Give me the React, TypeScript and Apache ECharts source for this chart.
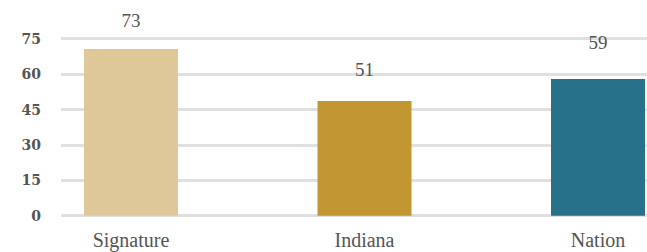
import React, { useEffect, useRef } from "react";
import * as echarts from "echarts";

const categories = ["Signature", "Indiana", "Nation"];
const barValues = [70.6, 48.6, 57.9];
const labelValues = [73, 51, 59];
const yTicks = { min: 0, max: 75, interval: 15 };
const barColors = ["#DEC898", "#C29630", "#27728A"];
const labelDistances = [19, 22, 27];

const serif = "'Liberation Serif', 'Times New Roman', Times, serif";

export default function App() {
  const ref = useRef<HTMLDivElement>(null);
  useEffect(() => {
    if (!ref.current) return;
    const chart = echarts.init(ref.current, null, { renderer: "svg" });
    chart.setOption({
      animation: false,
      grid: [
        { left: 61, right: 0, top: 38.7, bottom: 36.3 },
        { left: 131, right: 49, top: 38.7, bottom: 36.3 },
      ],
      xAxis: [
        { type: "category", gridIndex: 0, data: categories, show: false },
        {
          type: "category",
          gridIndex: 1,
          data: categories,
          boundaryGap: false,
          axisLine: { show: false },
          axisTick: { show: false },
          splitLine: { show: false },
          axisLabel: {
            margin: 14,
            color: "#555",
            fontFamily: serif,
            fontSize: 20,
          },
        },
      ],
      yAxis: [
        {
          type: "value",
          gridIndex: 0,
          ...yTicks,
          axisLine: { show: false },
          axisTick: { show: false },
          splitLine: { lineStyle: { color: "#e0e0e0", width: 3 } },
          axisLabel: {
            margin: 20,
            color: "#555",
            fontFamily: "'DejaVu Serif', serif",
            fontWeight: "bold",
            fontSize: 14,
          },
        },
        {
          type: "value",
          gridIndex: 1,
          ...yTicks,
          show: false,
          splitLine: { show: false },
        },
      ],
      series: [
        {
          type: "bar",
          xAxisIndex: 1,
          yAxisIndex: 1,
          barWidth: 94,
          clip: false,
          z: 3,
          data: barValues.map((v, i) => ({
            value: v,
            itemStyle: { color: barColors[i] },
            label: {
              show: true,
              position: "top",
              distance: labelDistances[i],
              formatter: String(labelValues[i]),
              color: "#555",
              fontFamily: serif,
              fontSize: 19,
            },
          })),
        },
      ],
    });
    return () => chart.dispose();
  }, []);
  return <div ref={ref} style={{ width: 647, height: 252, position: "absolute", left: 0, top: 0 }} />;
}
